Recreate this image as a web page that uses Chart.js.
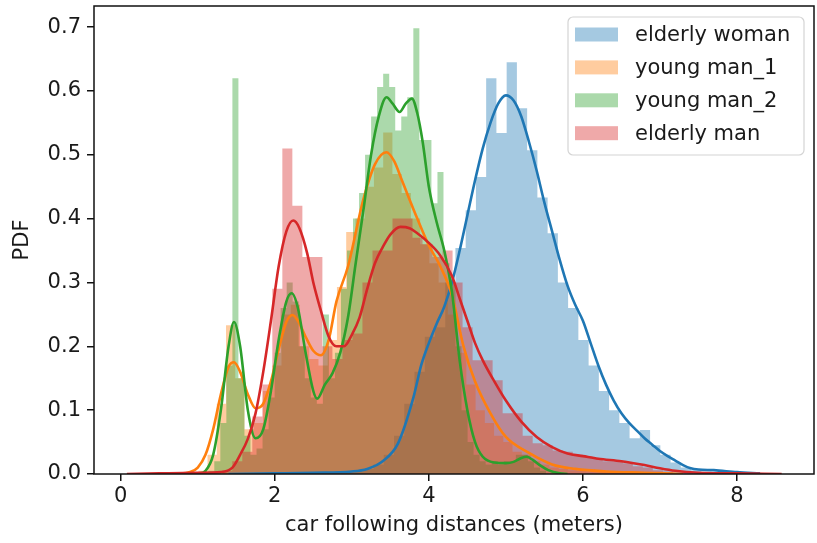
<!DOCTYPE html>
<html>
<head>
<meta charset="utf-8">
<script src="https://cdn.jsdelivr.net/npm/chart.js@4.4.1/dist/chart.umd.min.js"></script>
<style>
  html, body { margin:0; padding:0; background:#fff; }
  #wrap { width:817px; height:543px; }
</style>
</head>
<body>
<div id="wrap"><canvas id="chart" width="817" height="543"></canvas></div>
<script>
// ── Data ──────────────────────────────────────────────────────────────
const seriesNames = ['elderly woman', 'young man_1', 'young man_2', 'elderly man'];
const xTicks = [0, 2, 4, 6, 8];
const yTicks = [0, 0.1, 0.2, 0.3, 0.4, 0.5, 0.6, 0.7];

// histograms: first bin edge, bin width, bar heights (density)
const womanBinStart = 2.616, womanBinWidth = 0.133;
const womanHist = [0.002, 0.002, 0.004, 0.004, 0.008, 0.015, 0.03, 0.06, 0.11, 0.16, 0.215, 0.23, 0.30, 0.354,
    0.413, 0.465, 0.62, 0.534, 0.645, 0.573, 0.507, 0.433, 0.377, 0.30, 0.26, 0.21, 0.17, 0.13, 0.10, 0.08,
    0.056, 0.069, 0.045, 0.03, 0.018, 0.01, 0.006, 0.004, 0.003];

const young1BinStart = 1.007, young1BinWidth = 0.12;
const young1Hist = [0.005, 0.03, 0.11, 0.233, 0.15, 0.07, 0.08, 0.13, 0.17, 0.25, 0.265, 0.20, 0.18, 0.17, 0.21,
    0.293, 0.379, 0.40, 0.45, 0.48, 0.535, 0.47, 0.44, 0.40, 0.36, 0.33, 0.30, 0.25, 0.19, 0.14, 0.10, 0.08,
    0.06, 0.05, 0.035, 0.03, 0.02, 0.015, 0.01, 0.008, 0.006, 0.005, 0.004, 0.003, 0.003, 0.002, 0.001, 0.001, 0.001];

const young2BinStart = 1.058, young2BinWidth = 0.0783;
const young2Hist = [0.0, 0.005, 0.02, 0.08, 0.17, 0.62, 0.15, 0.06, 0.03, 0.04, 0.07, 0.12, 0.19, 0.26, 0.30,
    0.27, 0.20, 0.15, 0.12, 0.11, 0.25, 0.15, 0.19, 0.29, 0.35, 0.40, 0.44, 0.50, 0.56, 0.606, 0.627, 0.606,
    0.538, 0.56, 0.59, 0.698, 0.523, 0.523, 0.424, 0.473, 0.33, 0.30, 0.20, 0.10, 0.05, 0.03, 0.02, 0.015,
    0.02, 0.015, 0.02, 0.02, 0.03, 0.03, 0.02, 0.01, 0.005];

const elderBinStart = 1.318, elderBinWidth = 0.13;
const elderHist = [0.005, 0.02, 0.035, 0.09, 0.14, 0.29, 0.51, 0.42, 0.34, 0.34, 0.20, 0.18, 0.21, 0.22, 0.30,
    0.35, 0.35, 0.40, 0.40, 0.37, 0.36, 0.34, 0.35, 0.30, 0.23, 0.178, 0.178, 0.147, 0.095, 0.095, 0.06, 0.048,
    0.045, 0.037, 0.035, 0.03, 0.027, 0.025, 0.02, 0.02, 0.017, 0.012, 0.01, 0.006, 0.004, 0.002, 0.001];

// KDE curves
const womanKdeX = [1.4, 2.0, 2.5, 3.0, 3.2, 3.4, 3.6, 3.8, 3.9, 4.0, 4.1, 4.2, 4.3, 4.4, 4.5, 4.6, 4.7, 4.8, 4.9,
    5.0, 5.1, 5.2, 5.3, 5.4, 5.5, 5.6, 5.7, 5.8, 5.9, 6.0, 6.1, 6.2, 6.3, 6.4, 6.5, 6.6, 6.7, 6.8, 6.9, 7.0,
    7.1, 7.2, 7.3, 7.4, 7.5, 7.7, 8.0, 8.3];
const womanKdeY = [0.0, 0.001, 0.002, 0.004, 0.008, 0.02, 0.048, 0.12, 0.17, 0.205, 0.235, 0.262, 0.30, 0.35,
    0.405, 0.46, 0.51, 0.55, 0.58, 0.593, 0.585, 0.56, 0.52, 0.475, 0.425, 0.38, 0.335, 0.295, 0.265, 0.24,
    0.205, 0.17, 0.14, 0.115, 0.095, 0.08, 0.068, 0.056, 0.046, 0.036, 0.028, 0.021, 0.014, 0.009, 0.007,
    0.006, 0.003, 0.001];

const young1KdeX = [0.7, 0.9, 1.0, 1.1, 1.2, 1.3, 1.4, 1.47, 1.55, 1.65, 1.75, 1.85, 1.95, 2.05, 2.15, 2.23, 2.3,
    2.4, 2.5, 2.6, 2.7, 2.8, 2.95, 3.15, 3.3, 3.45, 3.55, 3.65, 3.85, 4.0, 4.15, 4.3, 4.45, 4.6, 4.8, 5.0, 5.3,
    5.6, 5.9, 6.3, 6.8, 7.3];
const young1KdeY = [0.0, 0.003, 0.01, 0.03, 0.07, 0.125, 0.168, 0.175, 0.16, 0.125, 0.103, 0.11, 0.145, 0.195,
    0.238, 0.249, 0.24, 0.215, 0.193, 0.186, 0.21, 0.27, 0.325, 0.43, 0.485, 0.504, 0.49, 0.46, 0.40, 0.358,
    0.325, 0.28, 0.20, 0.145, 0.095, 0.058, 0.033, 0.015, 0.008, 0.004, 0.002, 0.0];

const young2KdeX = [1.0, 1.1, 1.2, 1.3, 1.4, 1.47, 1.55, 1.65, 1.75, 1.85, 1.95, 2.05, 2.15, 2.22, 2.3, 2.4, 2.5,
    2.55, 2.65, 2.75, 2.85, 2.95, 3.05, 3.15, 3.25, 3.35, 3.45, 3.53, 3.62, 3.7, 3.78, 3.85, 3.92, 4.0, 4.1,
    4.2, 4.3, 4.4, 4.5, 4.6, 4.7, 4.85, 5.0, 5.1, 5.2, 5.27, 5.35, 5.45, 5.55, 5.7, 5.8];
const young2KdeY = [0.0, 0.005, 0.03, 0.1, 0.2, 0.238, 0.2, 0.1, 0.056, 0.07, 0.13, 0.21, 0.27, 0.283, 0.26,
    0.19, 0.13, 0.118, 0.14, 0.158, 0.19, 0.245, 0.33, 0.413, 0.5, 0.56, 0.59, 0.58, 0.567, 0.58, 0.588,
    0.565, 0.52, 0.45, 0.395, 0.35, 0.285, 0.178, 0.1, 0.05, 0.027, 0.018, 0.017, 0.019, 0.025, 0.027, 0.022,
    0.013, 0.006, 0.001, 0.0];

const elderKdeX = [0.08, 0.5, 1.0, 1.3, 1.45, 1.55, 1.65, 1.75, 1.85, 1.95, 2.05, 2.15, 2.24, 2.32, 2.42, 2.5,
    2.6, 2.7, 2.8, 2.9, 3.0, 3.1, 3.2, 3.3, 3.4, 3.5, 3.63, 3.75, 3.85, 4.0, 4.15, 4.3, 4.4, 4.5, 4.6, 4.7,
    4.85, 5.0, 5.2, 5.4, 5.6, 5.8, 6.0, 6.2, 6.5, 6.8, 7.0, 7.2, 7.5, 8.0, 8.58];
const elderKdeY = [0.0, 0.001, 0.002, 0.003, 0.01, 0.03, 0.055, 0.095, 0.16, 0.24, 0.325, 0.38, 0.397, 0.385,
    0.346, 0.30, 0.255, 0.215, 0.20, 0.20, 0.218, 0.245, 0.29, 0.33, 0.355, 0.375, 0.387, 0.385, 0.377,
    0.362, 0.342, 0.31, 0.275, 0.24, 0.205, 0.178, 0.145, 0.115, 0.082, 0.058, 0.042, 0.032, 0.028, 0.024,
    0.02, 0.014, 0.009, 0.005, 0.002, 0.001, 0.0];

// ── Styling ───────────────────────────────────────────────────────────
const lineColors = ['#1f77b4', '#ff7f0e', '#2ca02c', '#d62728'];
const histColors = ['rgba(31,119,180,0.4)', 'rgba(255,127,14,0.4)', 'rgba(44,160,44,0.4)', 'rgba(214,39,40,0.4)'];
const FONT = 'DejaVu Sans';
const TEXT = '#1a1a1a';

function histPoints(start, width, heights) {
    const pts = heights.map((h, i) => ({ x: start + i * width, y: h }));
    pts.push({ x: start + heights.length * width, y: 0 });
    return pts;
}

function kdePoints(xs, ys) {
    return xs.map((x, i) => ({ x, y: ys[i] }));
}

const hists = [
    histPoints(womanBinStart, womanBinWidth, womanHist),
    histPoints(young1BinStart, young1BinWidth, young1Hist),
    histPoints(young2BinStart, young2BinWidth, young2Hist),
    histPoints(elderBinStart, elderBinWidth, elderHist),
];
const kdes = [
    kdePoints(womanKdeX, womanKdeY),
    kdePoints(young1KdeX, young1KdeY),
    kdePoints(young2KdeX, young2KdeY),
    kdePoints(elderKdeX, elderKdeY),
];

// bars sit below every curve (matplotlib zorder), each group in series order
const datasets = [];
seriesNames.forEach((name, i) => {
    datasets.push({
        label: name, data: hists[i], stepped: 'before', fill: 'origin',
        backgroundColor: histColors[i], borderColor: 'rgba(0,0,0,0)', borderWidth: 0,
        pointRadius: 0, tension: 0,
    });
});
seriesNames.forEach((name, i) => {
    datasets.push({
        label: name + ' kde', data: kdes[i], fill: false,
        borderColor: lineColors[i], borderWidth: 2.6, pointRadius: 0,
        cubicInterpolationMode: 'monotone',
    });
});
datasets.forEach((d, i) => { d.order = datasets.length - i; });

// ── Plugins ───────────────────────────────────────────────────────────
const frameAndLegend = {
    id: 'frameAndLegend',
    afterDatasetsDraw(chart) {
        const { ctx, chartArea: a } = chart;
        ctx.save();
        ctx.strokeStyle = '#111';
        ctx.lineWidth = 1.5;
        ctx.strokeRect(a.left, a.top, a.right - a.left, a.bottom - a.top);

        // legend box
        const bx = 568, by = 17, bw = 236, bh = 138, r = 5;
        ctx.beginPath();
        ctx.moveTo(bx + r, by);
        ctx.arcTo(bx + bw, by, bx + bw, by + bh, r);
        ctx.arcTo(bx + bw, by + bh, bx, by + bh, r);
        ctx.arcTo(bx, by + bh, bx, by, r);
        ctx.arcTo(bx, by, bx + bw, by, r);
        ctx.closePath();
        ctx.fillStyle = 'rgba(255,255,255,0.8)';
        ctx.fill();
        ctx.strokeStyle = '#d4d4d4';
        ctx.lineWidth = 1.2;
        ctx.stroke();

        ctx.font = `21px "${FONT}"`;
        ctx.textBaseline = 'middle';
        ctx.textAlign = 'left';
        seriesNames.forEach((name, i) => {
            const cy = 34.5 + i * 32.9;
            ctx.fillStyle = histColors[i];
            ctx.fillRect(575, cy - 7, 43, 14);
            ctx.fillStyle = TEXT;
            ctx.fillText(name, 635, cy + 1);
        });
        ctx.restore();
    }
};

// ── Chart ─────────────────────────────────────────────────────────────
new Chart(document.getElementById('chart'), {
    type: 'line',
    data: { datasets },
    options: {
        responsive: false,
        animation: false,
        layout: { padding: { left: 0, top: 6, right: 3, bottom: 0 } },
        plugins: { legend: { display: false }, tooltip: { enabled: false } },
        scales: {
            x: {
                type: 'linear', min: -0.347, max: 9.0,
                afterBuildTicks: s => { s.ticks = xTicks.map(v => ({ value: v })); },
                afterFit: s => { s.height = 69; s.paddingLeft = 0; s.paddingRight = 0; },
                grid: { drawOnChartArea: false, drawTicks: true, tickLength: 7, color: '#111', lineWidth: 1.5 },
                border: { display: false },
                ticks: { autoSkip: false, maxRotation: 0, padding: 3, color: TEXT,
                         font: { family: FONT, size: 21 }, callback: v => String(v) },
                title: { display: true, text: 'car following distances (meters)', color: TEXT,
                         font: { family: FONT, size: 21 }, padding: { top: 0, bottom: 5 } },
            },
            y: {
                type: 'linear', min: 0, max: 0.733,
                afterBuildTicks: s => { s.ticks = yTicks.map(v => ({ value: v })); },
                afterFit: s => { s.width = 94; s.paddingTop = 0; s.paddingBottom = 0; },
                grid: { drawOnChartArea: false, drawTicks: true, tickLength: 7, color: '#111', lineWidth: 1.5 },
                border: { display: false },
                ticks: { autoSkip: false, padding: 6, color: TEXT,
                         font: { family: FONT, size: 21 }, callback: v => v.toFixed(1) },
                title: { display: true, text: 'PDF', color: TEXT,
                         font: { family: FONT, size: 21 }, padding: { top: 10, bottom: 0 } },
            },
        },
    },
    plugins: [frameAndLegend],
});
</script>
</body>
</html>
